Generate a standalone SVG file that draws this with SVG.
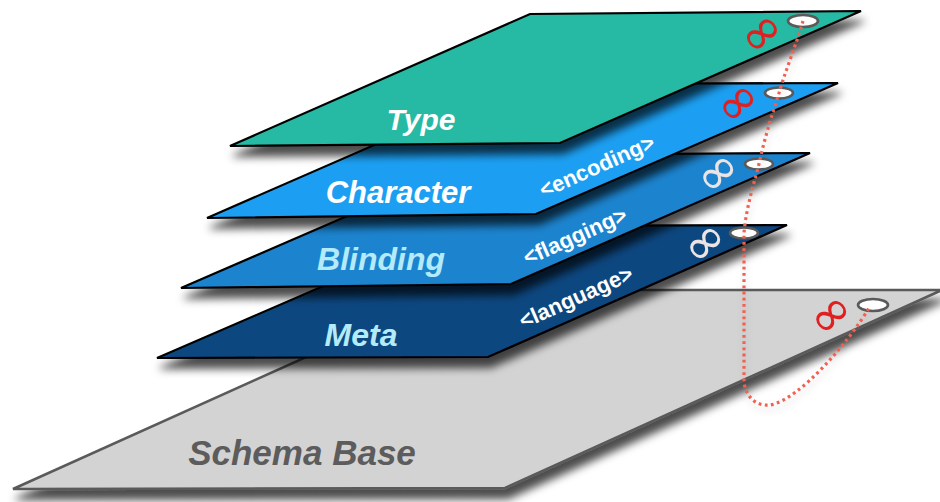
<svg xmlns="http://www.w3.org/2000/svg" width="940" height="502" viewBox="0 0 940 502">
<defs>
<filter id="sh" x="-20%" y="-20%" width="140%" height="150%">
<feGaussianBlur in="SourceAlpha" stdDeviation="4.5"/>
<feOffset dx="3" dy="10" result="b"/>
<feFlood flood-color="#000" flood-opacity="0.7"/>
<feComposite in2="b" operator="in"/>
<feMerge><feMergeNode/><feMergeNode in="SourceGraphic"/></feMerge>
</filter>
<filter id="lsh" x="-20%" y="-20%" width="140%" height="140%">
<feGaussianBlur in="SourceAlpha" stdDeviation="3"/>
<feOffset dx="1" dy="5" result="b"/>
<feFlood flood-color="#000" flood-opacity="0.15"/>
<feComposite in2="b" operator="in"/>
<feMerge><feMergeNode/><feMergeNode in="SourceGraphic"/></feMerge>
</filter>
</defs>
<style>
.pl{stroke:#000;stroke-width:2.2;stroke-linejoin:miter}
.base{fill:#d3d3d3;stroke:#5a5a5a;stroke-width:2.5}
.lbl{font-family:"Liberation Sans",Arial,sans-serif;font-weight:bold;font-style:italic;text-anchor:middle}
.tag{font-family:"Liberation Sans",Arial,sans-serif;font-weight:bold;font-size:22px;fill:#fff;text-anchor:middle}
.inf{font-family:"DejaVu Sans",sans-serif;font-size:52px;text-anchor:middle}
.hole{fill:#fff;stroke:#5a5a5a;stroke-width:2.6}
.link{fill:none;stroke:#f2604f;stroke-width:3.2;stroke-dasharray:2.8 3.4;stroke-linecap:butt}
</style>
<g id="schema-base">
<polygon class="base" filter="url(#sh)" points="455,290 942,290 505,488 13,489"/>
<text class="lbl" x="302" y="465" font-size="35" fill="#5c5c5c">Schema Base</text>
<text class="inf" x="831" y="331" fill="#e02020" transform="rotate(-42 831 315)">∞</text>
<ellipse class="hole" cx="873" cy="305" rx="15" ry="6"/>
</g>
<g id="meta">
<polygon class="pl" filter="url(#sh)" fill="#0b4680" points="462,226 787,225 488,357 157,358"/>
<text class="lbl" x="361" y="346" font-size="32" fill="#b3ebfa">Meta</text>
<text class="tag" x="579" y="304" transform="rotate(-24 579 304)">&lt;language&gt;</text>
<text class="inf" x="705" y="259" fill="#ece4e4" transform="rotate(-42 705 243)">∞</text>
<ellipse class="hole" cx="744" cy="233" rx="14" ry="5.5"/>
</g>
<g id="blinding">
<polygon class="pl" filter="url(#sh)" fill="#1a84cf" points="488,155 810,153 511,284 181,288"/>
<text class="lbl" x="381" y="270" font-size="32" fill="#b3ebfa">Blinding</text>
<text class="tag" x="578" y="243" transform="rotate(-24 578 243)">&lt;flagging&gt;</text>
<text class="inf" x="718" y="189" fill="#ece4e4" transform="rotate(-42 718 173)">∞</text>
<ellipse class="hole" cx="759" cy="164" rx="14" ry="5.5"/>
</g>
<g id="character">
<polygon class="pl" filter="url(#sh)" fill="#1f9ff2" points="514,84 838,83 536,214 207,218"/>
<text class="lbl" x="398" y="203" font-size="31" fill="#fff">Character</text>
<text class="tag" x="600" y="173" transform="rotate(-24 600 173)">&lt;encoding&gt;</text>
<text class="inf" x="738" y="119" fill="#e02020" transform="rotate(-42 738 103)">∞</text>
<ellipse class="hole" cx="779" cy="93" rx="14" ry="5.5"/>
</g>
<g id="type">
<polygon class="pl" filter="url(#sh)" fill="#26b9a3" points="530,14 861,11 560,143 230,146"/>
<text class="lbl" x="421" y="130" font-size="30" fill="#fff">Type</text>
<text class="inf" x="763" y="49" font-size="44" fill="#e02020" transform="rotate(-42 763 35)">∞</text>
<ellipse class="hole" cx="803" cy="21" rx="15" ry="6"/>
</g>
<g id="connectors">
<path class="link" filter="url(#lsh)" d="M803,21 C796,45 784,75 779,93 C772,115 764,140 759,164 C752,190 746,210 744,233 L744,383 C748,402 760,406 770,405 C800,400 850,340 869,308"/>
</g>
</svg>
